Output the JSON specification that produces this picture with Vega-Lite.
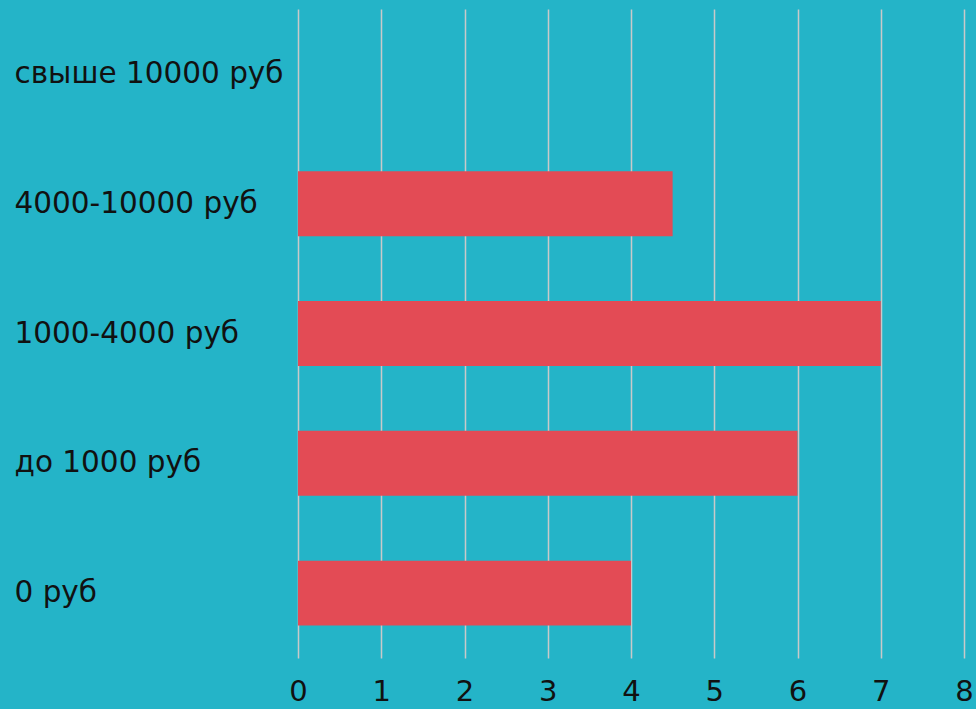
{
  "$schema": "https://vega.github.io/schema/vega-lite/v6.json",
  "width": 666,
  "height": 649,
  "autosize": {"type": "none"},
  "padding": {"left": 298, "top": 9, "right": 12, "bottom": 51},
  "background": "#24b4c8",
  "config": {"view": {"stroke": null}, "font": "DejaVu Sans"},
  "data": {
    "values": [
      {"category": "свыше 10000 руб", "value": 0},
      {"category": "4000-10000 руб", "value": 4.5},
      {"category": "1000-4000 руб", "value": 7},
      {"category": "до 1000 руб", "value": 6},
      {"category": "0 руб", "value": 4}
    ]
  },
  "mark": {"type": "bar", "color": "#e34b55", "strokeWidth": 0},
  "encoding": {
    "y": {
      "field": "category",
      "type": "nominal",
      "sort": null,
      "scale": {"paddingInner": 0.5, "paddingOuter": 0.25},
      "axis": {
        "title": null,
        "domain": false,
        "ticks": false,
        "tickSize": 0,
        "labelAlign": "left",
        "labelPadding": 284,
        "labelFontSize": 29.5,
        "labelColor": "#111111",
        "labelFont": "DejaVu Sans",
        "labelLimit": 300
      }
    },
    "x": {
      "field": "value",
      "type": "quantitative",
      "scale": {"domain": [0, 8], "nice": false},
      "axis": {
        "title": null,
        "domain": false,
        "ticks": false,
        "tickSize": 0,
        "values": [0, 1, 2, 3, 4, 5, 6, 7, 8],
        "grid": true,
        "gridColor": "#c9c9c9",
        "gridWidth": 1.5,
        "gridOpacity": 1,
        "labelPadding": 19,
        "labelFontSize": 29,
        "labelColor": "#111111",
        "labelFont": "DejaVu Sans",
        "labelFlush": false
      }
    }
  }
}
